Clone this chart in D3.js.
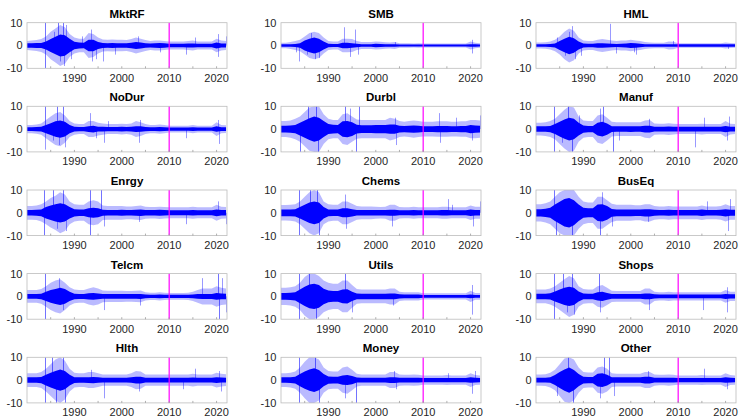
<!DOCTYPE html>
<html>
<head>
<meta charset="utf-8">
<script src="https://cdn.jsdelivr.net/npm/d3@7"></script>
<style>
  body { margin: 0; background: #fff; }
  svg { display: block; font-family: "Liberation Sans", Arial, Helvetica, sans-serif; }
</style>
</head>
<body>
<div class="vis"></div>
<script>
// panel titles, in reading order (5 rows x 3 cols)
const names = ["MktRF", "SMB", "HML", "NoDur", "Durbl", "Manuf", "Enrgy", "Chems", "BusEq",
               "Telcm", "Utils", "Shops", "Hlth", "Money", "Other"];
const years = d3.range(1980, 2023);          // one envelope value per year
const labelYears = [1990, 2000, 2010, 2020];
const minorYears = [1985, 1990, 1995, 2000, 2005, 2010, 2015, 2020];
const yTicks = [-10, 0, 10];
const splitYear = 2010;

// dense band (core) and thin outer fringe (outer), half-widths
const coreMktRF  = [1.0,1.0,1.1,1.1,1.8,2.8,3.8,4.8,4.5,3.0, 1.6,1.3,1.2,2.5,2.5,1.5,1.1,1.0,1.1,1.0, 1.0,1.0,1.2,1.5,1.3,1.0,0.9,1.0,1.1,1.0, 0.8,0.8,0.8,0.8,0.9,0.9,0.8,0.8,0.8,0.8, 1.3,0.9,0.9];
const outerMktRF = [2.0,2.2,2.4,2.8,4.0,6.0,7.5,9.0,8.0,5.0, 3.5,3.0,3.0,5.5,5.0,3.5,2.6,2.5,2.6,2.5, 2.5,2.4,2.8,3.5,3.0,2.4,2.0,2.2,2.2,2.0, 1.8,1.8,1.8,1.8,2.0,2.2,1.8,1.8,1.8,1.8, 3.0,2.2,2.0];
const spikesMktRF = [[1983.8,10],[1983.8,-10],[1985.6,6],[1986.5,10],[1986.9,-7],[1987.5,10],[1988.2,9],[1987.8,-9],[1989.3,-6],[1991.5,4],[1993.5,7],[1993.8,-7],[1994.5,-6],[1996.0,-7],[1998.5,-4],[2003.5,4],[2008.0,-3],[2013.5,-4],[2015.5,3.5],[2020.2,5],[2020.3,-5],[2021.9,4]];

const coreSMB  = [0.5,0.5,0.6,0.7,1.0,2.2,3.0,3.5,3.0,1.8, 0.8,0.7,0.7,1.2,1.2,1.0,0.8,0.6,0.6,0.6, 0.8,0.7,0.6,0.6,0.5,0.4,0.4,0.4,0.4,0.4, 0.4,0.4,0.4,0.4,0.4,0.4,0.4,0.4,0.4,0.4, 0.6,0.5,0.4];
const outerSMB = [1.2,1.2,1.5,2.0,2.5,4.0,5.5,6.0,5.5,3.5, 2.0,1.8,1.8,3.0,3.0,2.8,2.0,1.5,1.5,1.5, 1.8,1.6,1.4,1.3,1.5,1.0,1.0,1.0,0.9,1.0, 0.9,0.9,0.9,0.9,0.9,0.9,0.9,0.9,0.9,0.9, 1.8,1.2,1.0];
const spikesSMB = [[1983.2,-3],[1983.9,-7],[1985.5,-4],[1986.4,5.5],[1987.2,-6],[1988.1,-5.5],[1993.3,8],[1994.6,-5],[1995.6,7],[1996.2,-4],[2004.0,1.5],[2020.3,2.5],[2020.4,-3.5]];

const coreHML  = [0.6,0.6,0.6,0.7,0.9,2.0,3.0,3.8,3.2,1.8, 0.9,0.8,0.8,1.0,1.0,0.9,0.8,0.7,0.8,0.9, 1.1,1.0,0.8,0.6,0.5,0.5,0.5,0.5,0.6,0.6, 0.5,0.5,0.5,0.5,0.5,0.5,0.5,0.5,0.5,0.5, 0.6,0.5,0.5];
const outerHML = [1.3,1.3,1.4,1.8,2.5,4.0,6.0,7.5,6.5,3.5, 2.2,2.0,2.0,2.5,2.8,2.5,2.2,2.0,2.2,2.2, 2.5,2.2,2.0,1.5,1.3,1.2,1.2,1.2,1.8,1.6, 1.0,1.0,1.0,1.0,1.0,1.0,1.0,1.0,1.0,1.0, 1.3,1.1,1.0];
const spikesHML = [[1984.5,3.5],[1986.2,-4.5],[1986.9,6],[1987.6,8.5],[1988.3,-6],[1989.5,-4.5],[1995.6,9.5],[1996.8,-3.5],[2000.6,-3],[2001.2,-4],[2008.9,2],[2020.5,-1.5]];

const coreNoDur  = [0.8,0.8,0.9,1.0,1.8,2.6,3.4,3.8,3.2,1.8, 1.0,0.9,0.9,1.3,1.5,1.0,1.0,0.9,0.9,0.9, 1.0,0.9,1.0,1.3,1.2,0.9,0.8,0.8,0.9,0.8, 0.7,0.7,0.7,0.7,0.7,0.8,0.7,0.7,0.7,0.7, 1.2,0.8,0.8];
const outerNoDur = [1.8,1.8,2.0,2.5,4.0,5.5,7.0,7.5,6.0,3.5, 2.5,2.2,2.2,3.5,3.5,2.8,2.5,2.2,2.2,2.2, 2.4,2.2,2.5,3.5,3.0,2.2,1.8,1.8,2.0,1.8, 1.5,1.5,1.5,1.5,1.5,1.8,1.5,1.5,1.5,1.5, 3.0,1.8,1.7];
const spikesNoDur = [[1983.8,10],[1983.8,-9],[1985.4,-5],[1986.3,10],[1986.8,-7],[1987.7,10],[1988.0,-8],[1993.3,7],[1994.6,-4],[1996.2,-6],[1997.0,3.5],[2003.7,-6],[2003.9,4],[2013.5,-4],[2020.4,4],[2020.6,-6.5]];

const coreDurbl  = [1.5,1.5,1.6,1.8,2.8,3.8,4.8,5.5,5.0,3.5, 2.2,1.9,1.8,3.4,3.6,3.0,1.9,1.7,1.7,1.7, 1.8,1.8,1.8,2.0,2.0,1.5,1.4,1.5,1.6,1.5, 1.3,1.3,1.3,1.4,1.4,1.4,1.3,1.3,1.4,1.4, 1.8,1.6,1.5];
const outerDurbl = [3.5,3.5,3.8,4.5,5.5,7.5,9.5,10,10,6.5, 4.5,4.0,4.0,6.5,7.0,5.5,4.2,4.0,4.0,4.0, 4.0,4.0,4.0,5.0,4.5,3.5,3.2,3.5,3.8,3.5, 3.2,3.2,3.2,3.4,3.4,3.4,3.2,3.2,3.4,3.4, 4.0,4.0,3.8];
const spikesDurbl = [[1984.0,-10],[1985.8,10],[1987.3,10],[1987.9,-10],[1993.4,10],[1994.5,9],[1995.8,-10],[1996.5,10],[2004.0,5],[2004.3,-7],[2013.4,7],[2013.5,-6],[2017.0,5],[2020.4,-5],[2021.9,6]];

const coreManuf  = [1.2,1.2,1.2,1.4,2.2,3.2,4.2,5.0,4.5,2.8, 1.6,1.4,1.4,2.8,3.2,2.5,1.3,1.2,1.2,1.2, 1.3,1.2,1.2,1.5,1.5,1.0,1.0,1.0,1.1,1.0, 1.0,1.0,1.0,1.0,1.0,1.0,1.0,1.0,1.0,1.0, 1.4,1.0,1.0];
const outerManuf = [2.8,2.8,3.0,3.5,4.5,6.5,8.5,10,9.5,5.5, 3.8,3.5,3.5,6.0,6.5,5.0,3.2,3.0,3.0,3.0, 3.0,3.0,3.0,3.8,4.0,2.5,2.4,2.4,2.6,2.4, 2.2,2.2,2.2,2.2,2.2,2.4,2.2,2.2,2.2,2.2, 3.5,2.4,2.2];
const spikesManuf = [[1983.8,10],[1983.8,-10],[1985.5,-6],[1986.8,10],[1987.6,-10],[1989.0,6],[1993.4,9],[1994.2,10],[1996.2,-10],[1997.5,-5],[2003.8,4.5],[2013.5,-8],[2015.5,5],[2020.3,-5],[2020.8,5.5]];

const coreEnrgy  = [1.2,1.2,1.3,1.5,2.5,3.2,3.8,4.2,3.8,2.5, 1.6,1.4,1.4,2.0,2.2,2.0,1.3,1.2,1.2,1.2, 1.3,1.2,1.2,1.3,1.4,1.2,1.2,1.2,1.3,1.2, 1.1,1.1,1.1,1.1,1.1,1.2,1.1,1.1,1.1,1.1, 1.5,1.2,1.2];
const outerEnrgy = [3.0,3.0,3.2,3.8,5.0,6.5,7.5,9.0,8.0,5.0, 3.8,3.5,3.5,5.0,5.5,5.0,3.2,3.0,3.0,3.0, 3.0,2.8,2.8,3.0,3.2,2.6,2.5,2.5,2.7,2.5, 2.4,2.4,2.4,2.4,2.4,2.6,2.4,2.4,2.4,2.4, 3.5,2.6,2.5];
const spikesEnrgy = [[1983.6,10],[1983.6,-10],[1985.5,10],[1986.4,-7],[1987.7,10],[1988.3,-8],[1993.2,10],[1993.2,-10],[1995.6,10],[1996.3,-6],[2003.6,-4],[2013.5,-5],[2020.2,5],[2021.9,-5]];

const coreChems  = [1.5,1.5,1.5,1.6,2.5,3.5,4.5,5.0,4.5,2.5, 1.5,1.4,1.4,2.0,2.0,1.6,1.2,1.2,1.2,1.2, 1.2,1.2,1.2,1.3,1.3,1.1,1.1,1.1,1.2,1.1, 1.1,1.1,1.1,1.1,1.2,1.2,1.1,1.1,1.1,1.1, 1.4,1.2,1.2];
const outerChems = [3.4,3.4,3.5,3.8,5.0,7.0,9.0,10,9.0,5.0, 3.8,3.5,3.5,5.0,5.0,4.0,3.0,2.8,2.8,2.8, 2.6,2.5,2.6,3.5,3.5,2.5,2.4,2.4,2.6,2.4, 2.4,2.4,2.4,2.4,2.6,2.6,2.4,2.4,2.4,2.4, 3.2,2.6,2.6];
const spikesChems = [[1983.7,10],[1983.7,-10],[1986.2,10],[1987.5,10],[1988.0,-10],[1993.5,8],[1993.8,-7],[2003.5,-6],[2015.2,6],[2016.0,3.5],[2020.5,-6],[2021.9,5]];

const coreBusEq  = [1.6,1.6,1.8,2.2,3.6,4.8,6.0,6.5,5.5,3.6, 2.2,2.0,2.0,3.6,3.8,3.0,1.7,1.5,1.5,1.5, 1.5,1.4,1.4,1.6,1.6,1.3,1.2,1.2,1.3,1.2, 1.2,1.2,1.2,1.2,1.2,1.4,1.2,1.2,1.2,1.3, 1.6,1.3,1.3];
const outerBusEq = [3.8,3.8,4.2,5.0,7.0,9.0,10,10,10,7.0, 5.0,4.5,4.5,7.0,7.0,5.5,4.0,3.5,3.5,3.5, 3.5,3.3,3.3,3.8,3.8,3.0,2.8,2.8,3.0,2.8, 2.8,2.8,2.8,2.8,2.8,3.2,2.8,2.8,2.8,3.0, 3.8,3.0,3.0];
const spikesBusEq = [[1983.7,10],[1984.3,-10],[1987.5,-10],[1993.5,-10],[1994.0,9],[1996.0,-6],[2003.7,-4],[2016.0,5],[2020.5,-8],[2021.0,6]];

const coreTelcm  = [1.0,1.0,1.0,1.2,2.0,2.8,3.3,3.8,3.2,2.0, 1.2,1.1,1.1,1.4,1.5,1.3,1.0,1.0,1.0,1.0, 1.0,1.0,1.0,1.0,1.1,0.8,0.7,0.7,0.8,0.7, 0.7,0.7,0.7,0.7,0.7,0.8,1.0,1.1,1.1,1.1, 1.5,1.3,1.2];
const outerTelcm = [2.8,2.8,2.8,3.2,4.5,6.0,7.0,7.5,6.0,4.0, 3.0,2.8,2.8,3.5,4.0,3.5,2.6,2.5,2.5,2.5, 2.5,2.4,2.4,2.5,2.6,1.8,1.6,1.6,1.8,1.6, 1.5,1.5,1.5,1.5,1.6,2.0,2.8,3.5,3.5,3.5, 4.5,3.8,3.5];
const spikesTelcm = [[1983.8,10],[1983.8,-10],[1986.8,8],[1987.5,-6],[1996.2,-6],[2003.8,-4],[2017.0,8],[2020.4,10],[2020.5,-10],[2021.2,8],[2021.9,-7]];

const coreUtils  = [1.5,1.5,1.6,1.8,3.0,4.2,5.2,5.5,5.0,3.4, 2.6,2.4,2.4,3.0,3.1,2.0,1.3,1.2,1.2,1.2, 1.2,1.2,1.2,1.3,1.3,0.9,0.8,0.8,0.8,0.8, 0.6,0.6,0.6,0.6,0.6,0.6,0.6,0.6,0.6,0.6, 0.8,0.6,0.6];
const outerUtils = [3.8,3.8,4.0,4.5,6.0,8.5,10,10,9.0,7.0, 6.0,5.5,5.5,7.0,7.0,5.0,3.2,3.0,3.0,3.0, 3.0,3.0,3.0,3.5,3.5,2.0,1.8,1.8,1.8,1.8, 1.4,1.4,1.4,1.4,1.4,1.4,1.4,1.4,1.4,1.4, 2.5,1.5,1.5];
const spikesUtils = [[1983.7,10],[1983.7,-10],[1986.0,10],[1987.4,-10],[1993.5,10],[1995.0,-7],[2003.6,-4],[2020.3,5],[2020.4,-8]];

const coreShops  = [1.2,1.2,1.2,1.4,2.2,3.0,3.8,4.2,3.8,2.2, 1.3,1.2,1.2,1.8,2.0,1.5,1.0,1.0,1.0,1.0, 1.0,1.0,1.0,1.3,1.3,0.9,0.8,0.8,0.8,0.8, 0.8,0.8,0.8,0.8,0.8,0.8,0.8,0.8,0.8,0.8, 1.1,0.9,0.9];
const outerShops = [3.0,3.0,3.0,3.5,4.5,6.0,7.5,9.0,8.0,4.5, 3.2,3.0,3.0,4.5,5.0,3.8,2.5,2.4,2.4,2.4, 2.4,2.4,2.4,3.5,3.5,2.0,1.8,1.8,2.0,1.8, 1.8,1.8,1.8,1.8,1.8,1.8,1.8,1.8,1.8,1.8, 2.8,2.0,2.0];
const spikesShops = [[1983.7,10],[1983.7,-10],[1985.8,10],[1986.6,-7],[1987.6,10],[1988.0,-8],[1993.3,10],[1993.6,-7],[2003.8,-6],[2015.2,-6],[2020.2,4],[2020.4,-7]];

const coreHlth  = [1.2,1.2,1.2,1.4,2.4,3.2,4.0,4.7,4.0,2.4, 1.3,1.2,1.2,1.3,1.4,1.2,1.0,1.0,1.0,1.0, 1.0,1.0,1.2,1.5,1.5,1.0,1.0,1.0,1.0,1.0, 1.0,1.0,1.0,1.0,1.0,1.1,1.0,1.0,1.0,1.0, 1.3,1.1,1.0];
const outerHlth = [3.0,3.0,3.0,3.5,5.0,7.0,9.0,10,8.5,5.0, 3.2,3.0,3.0,3.5,3.5,3.0,2.5,2.5,2.5,2.5, 2.5,2.5,3.0,4.0,3.8,2.5,2.5,2.5,2.5,2.5, 2.5,2.5,2.5,2.5,2.5,2.8,2.5,2.5,2.5,2.5, 3.2,2.8,2.6];
const spikesHlth = [[1983.7,10],[1983.7,-10],[1985.3,10],[1986.2,-10],[1987.5,10],[1988.0,-10],[1993.5,4.5],[1996.2,-8],[2003.6,-5],[2013.0,-4],[2015.5,5],[2020.5,4],[2021.0,-5]];

const coreMoney  = [1.2,1.2,1.3,1.5,2.7,3.8,4.7,5.2,4.4,2.7, 1.6,1.5,1.5,2.0,2.2,1.8,1.1,1.0,1.0,1.0, 1.0,1.0,1.0,1.3,1.3,1.0,1.0,1.0,1.0,1.0, 0.9,0.9,0.9,0.9,0.9,0.9,0.9,0.9,0.9,0.9, 1.2,1.0,0.9];
const outerMoney = [3.0,3.0,3.2,3.8,5.5,8.0,10,10,9.0,5.5, 4.0,3.8,3.8,5.5,6.0,4.5,2.8,2.5,2.5,2.5, 2.5,2.5,2.5,3.5,3.5,2.5,2.4,2.4,2.5,2.4, 2.0,2.0,2.0,2.0,2.0,2.2,2.0,2.0,2.0,2.0, 3.0,2.2,2.0];
const spikesMoney = [[1983.9,10],[1983.9,-10],[1987.2,10],[1988.0,-10],[1993.4,-8],[1995.8,-10],[2003.8,4],[2004.2,-4],[2015.3,3],[2020.4,-6],[2021.0,4]];

const coreOther  = [1.0,1.0,1.0,1.2,2.2,3.5,4.7,5.5,4.4,2.7, 1.5,1.4,1.4,2.8,3.0,2.4,1.2,1.2,1.2,1.2, 1.2,1.2,1.2,1.5,1.5,1.0,1.0,1.0,1.0,1.0, 0.9,0.9,0.9,0.9,0.9,0.9,0.9,0.9,0.9,0.9, 1.2,1.0,0.9];
const outerOther = [2.5,2.5,2.6,3.2,4.5,7.0,9.5,10,9.0,5.5, 3.5,3.3,3.3,5.5,6.0,5.0,3.0,2.8,2.8,2.8, 2.8,2.8,2.8,3.5,3.5,2.5,2.3,2.3,2.5,2.3, 2.0,2.0,2.0,2.0,2.0,2.2,2.0,2.0,2.0,2.0, 3.0,2.2,2.0];
const spikesOther = [[1984.5,-7],[1986.8,10],[1987.8,-10],[1993.6,-8],[1994.3,10],[1995.5,10],[1996.5,-7],[2003.7,4],[2015.5,5],[2020.4,-4]];

const panels = [
    [coreMktRF, outerMktRF, spikesMktRF], [coreSMB, outerSMB, spikesSMB], [coreHML, outerHML, spikesHML],
    [coreNoDur, outerNoDur, spikesNoDur], [coreDurbl, outerDurbl, spikesDurbl], [coreManuf, outerManuf, spikesManuf],
    [coreEnrgy, outerEnrgy, spikesEnrgy], [coreChems, outerChems, spikesChems], [coreBusEq, outerBusEq, spikesBusEq],
    [coreTelcm, outerTelcm, spikesTelcm], [coreUtils, outerUtils, spikesUtils], [coreShops, outerShops, spikesShops],
    [coreHlth, outerHlth, spikesHlth], [coreMoney, outerMoney, spikesMoney], [coreOther, outerOther, spikesOther]
].map((d, i) => ({ name: names[i], core: d[0], outer: d[1], spikes: d[2] }));

// layout
const W = 741, H = 418;
const colX = [27, 281, 536], rowY = [22.7, 106.3, 190, 273.6, 357.3];
const pw = 200, ph = 45.6;

const svg = d3.select(".vis").append("svg").attr("width", W).attr("height", H);

const x = d3.scaleLinear().domain([1980, 2022.2]).range([0, pw]);
const y = d3.scaleLinear().domain([-10, 10]).range([ph, 0]);

const band = d3.area()
    .x((d, i) => x(years[i]))
    .y0(d => y(-d))
    .y1(d => y(d))
    .curve(d3.curveLinear);

// snap thin vertical lines to pixel centres
const px = v => Math.round(v) + 0.5;

const drawPanel = (p, i) => {
    const g = svg.append("g")
        .attr("transform", `translate(${colX[i % 3]}, ${rowY[Math.floor(i / 3)]})`);

    g.append("clipPath").attr("id", `clip${i}`)
        .append("rect").attr("width", pw).attr("height", ph);

    const plot = g.append("g").attr("clip-path", `url(#clip${i})`);

    plot.append("path").datum(p.outer)
        .attr("d", band)
        .attr("fill", "#0000ff").attr("fill-opacity", 0.27);

    plot.selectAll("line.spike").data(p.spikes).enter().append("line")
        .attr("class", "spike")
        .attr("x1", d => px(x(d[0]))).attr("x2", d => px(x(d[0])))
        .attr("y1", y(0)).attr("y2", d => y(d[1]))
        .attr("stroke", "#0000ff")
        .attr("stroke-opacity", d => Math.abs(d[1]) >= 10 ? 0.55 : 0.4)
        .attr("stroke-width", 1);

    plot.append("path").datum(p.core)
        .attr("d", band)
        .attr("fill", "#0000ff");

    g.append("line")
        .attr("x1", x(splitYear)).attr("x2", x(splitYear))
        .attr("y1", 0).attr("y2", ph)
        .attr("stroke", "#ff00ff").attr("stroke-width", 1.2);

    // frame and ticks
    g.append("rect")
        .attr("x", 0).attr("y", 0).attr("width", pw).attr("height", ph)
        .attr("fill", "none").attr("stroke", "#bcbcbc").attr("stroke-width", 0.8);

    g.selectAll("line.xt").data(minorYears).enter().append("line")
        .attr("class", "xt")
        .attr("x1", d => x(d)).attr("x2", d => x(d))
        .attr("y1", ph).attr("y2", ph - 2)
        .attr("stroke", "#9a9a9a").attr("stroke-width", 0.8);

    g.selectAll("text.xl").data(labelYears).enter().append("text")
        .attr("class", "xl")
        .attr("x", d => x(d)).attr("y", ph + 13.5)
        .attr("text-anchor", "middle")
        .attr("font-size", 11).attr("fill", "#262626")
        .text(d => d);

    g.selectAll("text.yl").data(yTicks).enter().append("text")
        .attr("class", "yl")
        .attr("x", -4.5).attr("y", d => y(d))
        .attr("dy", "0.36em")
        .attr("text-anchor", "end")
        .attr("font-size", 11).attr("fill", "#262626")
        .text(d => d);

    g.append("text")
        .attr("x", pw / 2).attr("y", -5)
        .attr("text-anchor", "middle")
        .attr("font-size", 11.5).attr("font-weight", "bold").attr("fill", "#000")
        .text(p.name);
};

panels.forEach(drawPanel);
</script>
</body>
</html>
